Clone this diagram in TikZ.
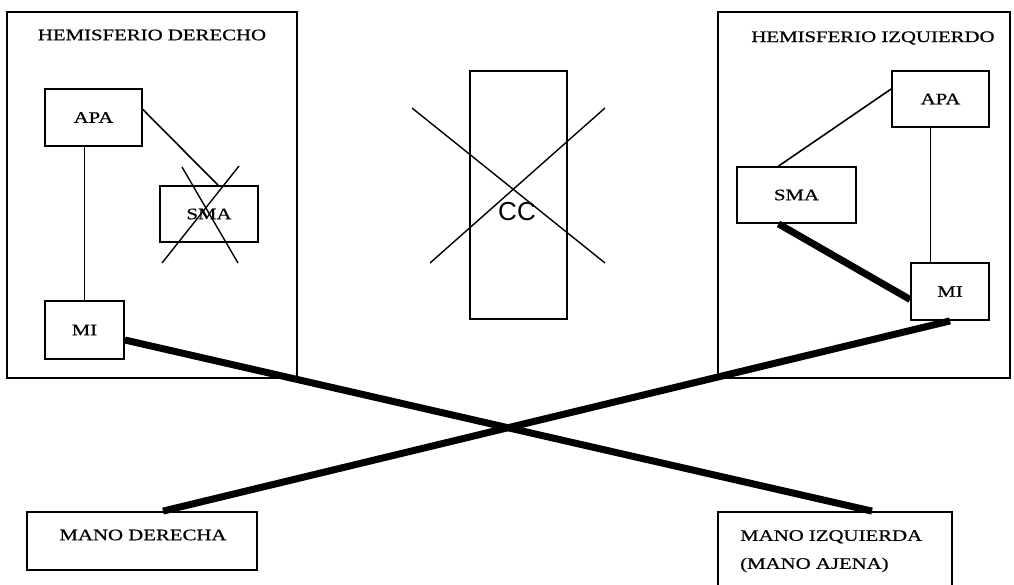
\documentclass[tikz,border=0pt]{standalone}
\usepackage{fontspec}
\newfontfamily\diagfont[FakeStretch=1.3,FakeBold=0.6]{Liberation Serif}
\newfontfamily\ccfont{Liberation Sans}
\begin{document}
\begin{tikzpicture}[x=1pt,y=-1pt,
  txt/.style={font=\diagfont\fontsize{16pt}{28pt}\selectfont},
  box/.style={draw, line width=1.8pt, inner sep=0pt, txt},
  lbl/.style={inner sep=0pt, txt},
  thinline/.style={line width=1.6pt},
  heavy/.style={line width=7pt},
  crossline/.style={line width=1.4pt}
]
\useasboundingbox[fill=white] (0,0) rectangle (1014,584);
\clip (0,0) rectangle (1014,584);

% hemispheres
\node[box, minimum width=290pt, minimum height=366pt] (hemD) at (152,195) {};
\node[lbl] (hemDt) at (152,35) {HEMISFERIO DERECHO};
\node[box, minimum width=292pt, minimum height=366pt] (hemI) at (864,195) {};
\node[lbl] (hemIt) at (873,38) {HEMISFERIO IZQUIERDO};

% left hemisphere boxes
\node[box, minimum width=97pt, minimum height=57pt] (apaL) at (93.5,117.5) {APA};
\node[box, minimum width=98pt, minimum height=56pt] (smaL) at (209,214) {SMA};
\node[box, minimum width=79pt, minimum height=58pt] (miL) at (84.5,330) {MI};

% right hemisphere boxes
\node[box, minimum width=97pt, minimum height=56pt] (apaR) at (940.5,99) {APA};
\node[box, minimum width=119pt, minimum height=56pt] (smaR) at (796.5,195) {SMA};
\node[box, minimum width=78pt, minimum height=57pt] (miR) at (950,291.5) {MI};

% corpus callosum
\node[box, minimum width=97pt, minimum height=248pt] (cc) at (518.5,195) {};
\node[inner sep=0pt, font=\ccfont\fontsize{26pt}{28pt}\selectfont] (cct) at (517,212) {CC};

% hands
\node[box, minimum width=230pt, minimum height=58pt] (manoD) at (142,541) {};
\node[lbl] (manoDt) at (143,535) {MANO DERECHA};
\node[box, minimum width=234pt, minimum height=88pt] (manoI) at (835,556) {};
\node[lbl, align=left, anchor=north west] (manoIt) at (740,530) {MANO IZQUIERDA\\(MANO AJENA)};

% left connectors
\draw[thinline] (miL.north) -- (miL.north |- apaL.south);
\draw[thinline] ([yshift=8pt]apaL.east) -- ([xshift=9pt]smaL.north);
\draw[crossline] (182,167) -- (238,263);
\draw[crossline] (239,166) -- (162,263);

% CC cross
\draw[crossline] (412,108) -- (605,263);
\draw[crossline] (430,263) -- (605,108);

% right connectors
\draw[thinline] ([yshift=10pt]apaR.west) -- ([xshift=-18pt]smaR.north);
\draw[thinline] ([xshift=-10pt]apaR.south) -- ([xshift=-10pt]apaR.south |- miR.north);
\draw[heavy] ([xshift=-18pt]smaR.south) -- ([yshift=-8pt]miR.west);

% crossing thick lines
\draw[heavy] ([yshift=-10pt]miL.east) -- ([xshift=37pt]manoI.north);
\draw[heavy] (miR.south) -- ([xshift=21pt]manoD.north);
\end{tikzpicture}
\end{document}
